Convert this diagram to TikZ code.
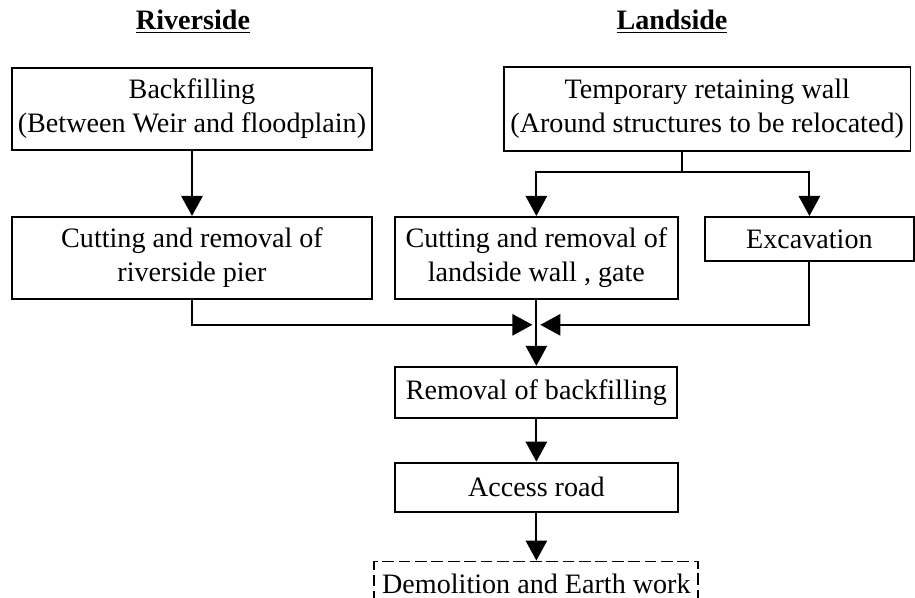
\documentclass[tikz,border=0pt]{standalone}
\usepackage{fontspec}
\setmainfont{Liberation Serif}
\usetikzlibrary{positioning,arrows.meta}
\tikzset{
    task/.style={
        rectangle, draw, line width=0.8pt,
        inner sep=1pt, align=center,
        font=\fontsize{12}{14.5}\selectfont
    },
    side/.style={
        font=\fontsize{12}{14.5}\selectfont\bfseries
    },
    link/.style={->, line width=0.8pt}
}

\begin{document}
\begin{tikzpicture}[>={Triangle[length=0.3cm,width=0.32cm]}]

    \useasboundingbox (0,0) rectangle (13.725,-8.97);

    % Side headings
    \node[side] (riv) at (2.895,-0.33) {\underline{Riverside}};
    \node[side] (land) at (10.08,-0.33) {\underline{Landside}};

    % First row
    \node[task, minimum width=5.4cm, minimum height=1.23cm] (back) at (2.88,-1.635)
        {Backfilling\\(Between Weir and floodplain)};
    \node[task, minimum width=6.1cm, minimum height=1.26cm, right=1.95cm of back] (wall)
        {Temporary retaining wall\\(Around structures to be relocated)};

    % Second row
    \node[task, minimum width=5.4cm, minimum height=1.23cm, below=0.975cm of back] (cutr)
        {Cutting and removal of\\riverside pier};
    \node[task, minimum width=4.245cm, minimum height=1.23cm, right=0.315cm of cutr] (cutl)
        {Cutting and removal of\\landside wall , gate};
    \node[task, minimum width=3.14cm, minimum height=0.66cm,
        right=0.375cm of cutl.north east, anchor=north west] (exca) {Excavation};

    % Common chain
    \node[task, minimum width=4.23cm, minimum height=0.765cm, below=0.99cm of cutl] (remov)
        {Removal of backfilling};
    \node[task, minimum width=4.245cm, minimum height=0.735cm, below=0.645cm of remov] (road)
        {Access road};
    \node[task, dash pattern=on 5pt off 2pt, minimum width=4.86cm, minimum height=0.66cm,
        below=0.72cm of road] (demo) {Demolition and Earth work};

    % Riverside arrow
    \draw[link] (back.south) -- (cutr.north);

    % Landside split
    \coordinate[below=0.3cm of wall.south, xshift=-0.38cm] (fork);
    \draw[line width=0.8pt] (wall.south -| fork) -- (fork);
    \draw[link] (fork) -| (cutl.north);
    \draw[link] (fork) -| (exca.north);

    % Merge
    \coordinate[below=0.375cm of cutl.south] (merge);
    \draw[link] (cutr.south) |- ([xshift=-0.06cm]merge);
    \draw[link] (exca.south) |- ([xshift=0.06cm]merge);
    \draw[link] (cutl.south) -- (remov.north);

    % Down the chain
    \draw[link] (remov.south) -- (road.north);
    \draw[link] (road.south) -- (demo.north);

\end{tikzpicture}
\end{document}
